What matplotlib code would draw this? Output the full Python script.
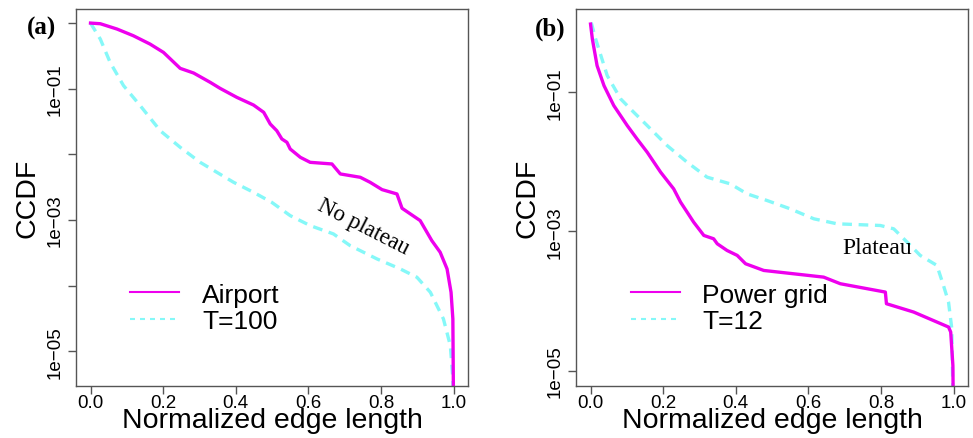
import numpy as np
import matplotlib.pyplot as plt
from matplotlib.lines import Line2D

# panel (a): airport network vs T=100 model (x, log10 CCDF)
airport_x = [0.0, 0.027, 0.073, 0.118, 0.164, 0.201, 0.247, 0.284, 0.330, 0.357,
             0.403, 0.449, 0.477, 0.495, 0.513, 0.527, 0.541, 0.550, 0.578, 0.605,
             0.665, 0.688, 0.743, 0.770, 0.803, 0.844, 0.858, 0.908, 0.940, 0.963,
             0.982, 0.993, 0.998, 1.0]
airport_logy = [0.0, -0.01, -0.091, -0.193, -0.320, -0.447, -0.690, -0.761, -0.904, -0.995,
                -1.132, -1.249, -1.360, -1.538, -1.640, -1.766, -1.817, -1.919, -2.046, -2.122,
                -2.147, -2.299, -2.350, -2.426, -2.538, -2.604, -2.822, -3.010, -3.315, -3.492,
                -3.746, -4.102, -4.508, -6.0]
t100_x = [0.0, 0.027, 0.054, 0.091, 0.137, 0.192, 0.247, 0.302, 0.394, 0.449,
          0.499, 0.550, 0.605, 0.669, 0.715, 0.789, 0.853, 0.899, 0.936, 0.972,
          0.991, 0.998, 1.0]
t100_logy = [0.0, -0.244, -0.599, -0.954, -1.259, -1.640, -1.893, -2.122, -2.426, -2.579,
             -2.731, -2.934, -3.086, -3.213, -3.391, -3.594, -3.746, -3.873, -4.102, -4.508,
             -4.914, -5.421, -6.0]

# panel (b): power grid vs T=12 model
grid_x = [0.0, 0.005, 0.018, 0.037, 0.064, 0.101, 0.128, 0.156, 0.193, 0.229,
          0.248, 0.266, 0.284, 0.312, 0.339, 0.349, 0.376, 0.404, 0.427, 0.477,
          0.642, 0.688, 0.812, 0.815, 0.890, 0.986, 0.992, 0.998, 1.0]
grid_logy = [-0.02, -0.234, -0.617, -0.904, -1.191, -1.478, -1.670, -1.861, -2.148, -2.388,
             -2.579, -2.722, -2.866, -3.057, -3.105, -3.177, -3.273, -3.344, -3.464, -3.560,
             -3.656, -3.751, -3.871, -4.038, -4.158, -4.373, -4.445, -4.923, -6.0]
t12_x = [0.002, 0.014, 0.046, 0.083, 0.119, 0.156, 0.211, 0.266, 0.321, 0.385,
         0.431, 0.486, 0.550, 0.615, 0.679, 0.798, 0.835, 0.872, 0.908, 0.954,
         0.972, 0.986, 0.995, 1.0]
t12_logy = [0.0, -0.234, -0.761, -1.096, -1.287, -1.478, -1.766, -2.005, -2.220, -2.316,
            -2.459, -2.555, -2.675, -2.818, -2.890, -2.914, -2.962, -3.153, -3.344, -3.488,
            -3.775, -4.014, -4.397, -6.0]

MAG = "#EE00EE"
CYA = "#85F8F8"
SANS = ["Liberation Sans", "DejaVu Sans"]
SERIF = ["Liberation Serif", "DejaVu Serif"]


def setup(ax, ylim, yticks, ylabels):
    ax.set_yscale("log")
    ax.set_xlim(-0.04, 1.04)
    ax.set_ylim(*ylim)
    ax.set_xticks([0.0, 0.2, 0.4, 0.6, 0.8, 1.0])
    ax.set_xticklabels(["0.0", "0.2", "0.4", "0.6", "0.8", "1.0"], family=SANS, fontsize=13.5)
    ax.yaxis.set_minor_locator(plt.NullLocator())
    ax.set_yticks(yticks)
    ax.set_yticklabels(ylabels, family=SANS, fontsize=13.5, rotation=90, va="center")
    for s in ax.spines.values():
        s.set_color("#555555")
        s.set_linewidth(1.0)
    ax.tick_params(length=6, width=1.0, color="#555555")
    ax.tick_params(axis="x", pad=0)
    ax.tick_params(axis="y", pad=3)
    ax.set_xlabel("Normalized edge length", family=SANS, fontsize=20.5, labelpad=-3)
    ax.set_ylabel("CCDF", family=SANS, fontsize=20.5, labelpad=4)


fig = plt.figure(figsize=(9.73, 4.39), dpi=100)
ax1 = fig.add_axes([0.0781, 0.1185, 0.403, 0.8585])
ax2 = fig.add_axes([0.592, 0.1185, 0.403, 0.8585])

# panel (a)
ax1.plot(t100_x, 10 ** np.array(t100_logy), color=CYA, lw=2.4, dashes=(2.9, 2.0))
ax1.plot(airport_x, 10 ** np.array(airport_logy), color=MAG, lw=2.4)
setup(ax1, (10 ** -5.53, 10 ** 0.213),
      [1e0, 1e-1, 1e-2, 1e-3, 1e-4, 1e-5],
      ["", "1e\u221201", "", "1e\u221203", "", "1e\u221205"])
ax1.text(0.751, 10 ** -3.09, "No plateau", family=SERIF, fontsize=16.5,
         rotation=-27, ha="center", va="center", rotation_mode="anchor")
h1 = [Line2D([], [], color=MAG, lw=1.5),
      Line2D([], [], color=CYA, lw=1.5, dashes=(2.4, 2.4))]
ax1.legend(h1, ["Airport", "T=100"], loc="center left", bbox_to_anchor=(0.138, 0.207),
           frameon=False, borderpad=0, borderaxespad=0, handlelength=1.85,
           handletextpad=0.87, labelspacing=0.1, prop={"family": SANS, "size": 19})

# panel (b)
ax2.plot(t12_x, 10 ** np.array(t12_logy), color=CYA, lw=2.4, dashes=(2.9, 2.0))
ax2.plot(grid_x, 10 ** np.array(grid_logy), color=MAG, lw=2.4)
setup(ax2, (10 ** -5.22, 10 ** 0.195),
      [1e-1, 1e-3, 1e-5],
      ["1e\u221201", "1e\u221203", "1e\u221205"])
ax2.text(0.790, 10 ** -3.234, "Plateau", family=SERIF, fontsize=17,
         ha="center", va="center")
h2 = [Line2D([], [], color=MAG, lw=1.5),
      Line2D([], [], color=CYA, lw=1.5, dashes=(2.4, 2.4))]
ax2.legend(h2, ["Power grid", "T=12"], loc="center left", bbox_to_anchor=(0.1395, 0.207),
           frameon=False, borderpad=0, borderaxespad=0, handlelength=1.85,
           handletextpad=0.87, labelspacing=0.1, prop={"family": SANS, "size": 19})

fig.text(41.7 / 973, 1 - 28.3 / 439, "(a)", family=SERIF, weight="bold", fontsize=18,
         ha="center", va="center")
fig.text(550 / 973, 1 - 29 / 439, "(b)", family=SERIF, weight="bold", fontsize=18,
         ha="center", va="center")

fig.savefig("out.png", dpi=100)
